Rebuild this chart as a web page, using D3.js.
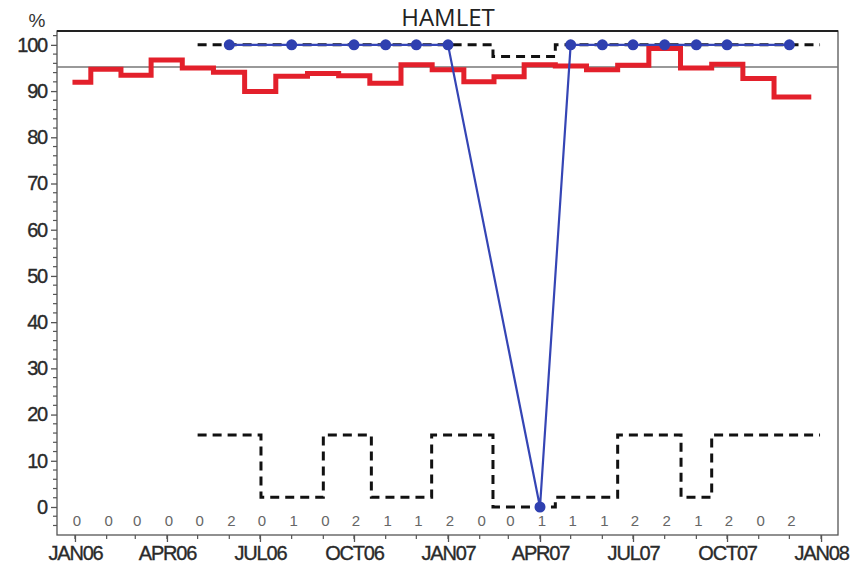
<!DOCTYPE html>
<html>
<head>
<meta charset="utf-8">
<script src="https://cdn.jsdelivr.net/npm/d3@7"></script>
<style>
  html, body { margin: 0; padding: 0; background: #fff; }
  svg { display: block; }
</style>
</head>
<body>
<svg id="chart" width="851" height="571"></svg>
<script>
// ---- data ----
const months = ["2006-01","2006-02","2006-03","2006-04","2006-05","2006-06","2006-07","2006-08","2006-09","2006-10","2006-11","2006-12",
                "2007-01","2007-02","2007-03","2007-04","2007-05","2007-06","2007-07","2007-08","2007-09","2007-10","2007-11","2007-12"];
const redValues = [91.9, 94.7, 93.4, 96.7, 95.0, 94.1, 89.9, 93.2, 93.8, 93.3, 91.7, 95.7,
                   94.6, 92.0, 93.1, 95.7, 95.4, 94.6, 95.6, 99.2, 95.0, 95.8, 92.7, 88.7];
const blueValues = [null, null, null, null, null, 100, null, 100, null, 100, 100, 100,
                    100, null, null, 0, 100, 100, 100, 100, 100, 100, null, 100];
const counts = [0,0,0,0,0,2,0,1,0,2,1,1,2,0,0,1,1,1,2,2,1,2,0,2];
const limitDates = ["2006-05-01","2006-07-02","2006-09-01","2006-10-18","2006-12-16","2007-02-14",
                    "2007-04-16","2007-06-16","2007-08-17","2007-09-16","2007-12-31"];
const upperLimit = [100, 100, 100, 100, 100, 97.5, 100, 100, 100, 100, 100];
const lowerLimit = [15.6, 2.1, 15.6, 2.1, 15.6, 0, 2.1, 15.6, 2.1, 15.6, 15.6];
const targetLine = 95.2;
const yTicks = [0,10,20,30,40,50,60,70,80,90,100];
const xTickLabels = ["JAN06","APR06","JUL06","OCT06","JAN07","APR07","JUL07","OCT07","JAN08"];
const titleText = "HAMLET";
const yUnit = "%";

// ---- setup ----
const svg = d3.select("#chart");
const parseM = d3.timeParse("%Y-%m");
const parseD = d3.timeParse("%Y-%m-%d");
const L = 57, R = 838, T = 31, B = 535;

const x = d3.scaleTime()
  .domain([new Date(2005, 11, 14, 10), new Date(2008, 0, 17, 14)])
  .range([L, R]);
const y = d3.scaleLinear().domain([-6.06, 103.0]).range([B, T]);

const red = months.map((m, i) => ({ date: parseM(m), value: redValues[i] }));
const blue = months.map((m, i) => ({ date: parseM(m), value: blueValues[i] })).filter(d => d.value !== null);
const limU = limitDates.map((d, i) => ({ date: parseD(d), value: upperLimit[i] }));
const limL = limitDates.map((d, i) => ({ date: parseD(d), value: lowerLimit[i] }));

const tickFont = "Liberation Sans, Arial, sans-serif";

// frame
svg.append("rect").attr("x", L).attr("y", T).attr("width", R - L).attr("height", B - T)
  .attr("fill", "none").attr("stroke", "#555").attr("stroke-width", 1.3);
svg.append("line").attr("x1", L).attr("x2", R).attr("y1", T).attr("y2", T)
  .attr("stroke", "#222").attr("stroke-width", 2);

// y axis
const yMinor = d3.range(-4, 103, 2).filter(v => v % 10 !== 0);
svg.append("g").selectAll("line").data(yMinor).join("line")
  .attr("x1", L - 4).attr("x2", L).attr("y1", d => y(d)).attr("y2", d => y(d))
  .attr("stroke", "#555").attr("stroke-width", 1.2);
const yAx = d3.axisLeft(y).tickValues(yTicks).tickSize(6).tickPadding(4);
const gy = svg.append("g").attr("transform", `translate(${L},0)`).call(yAx);
gy.select(".domain").remove();
gy.selectAll(".tick line").attr("stroke", "#555").attr("stroke-width", 1.3);
gy.selectAll(".tick text").attr("font-family", tickFont)
  .attr("font-size", 20).attr("fill", "#2a2a2a").attr("stroke", "#2a2a2a").attr("stroke-width", 0.35)
  .attr("letter-spacing", -1.2);

svg.append("text").attr("x", 37).attr("y", 27).attr("text-anchor", "middle")
  .attr("font-family", tickFont).attr("font-size", 19).attr("fill", "#333")
  .text(yUnit);

// x axis
const monthTicks = d3.timeMonth.range(new Date(2006, 0, 1), new Date(2008, 0, 2));
svg.append("g").selectAll("line").data(monthTicks).join("line")
  .attr("x1", d => x(d)).attr("x2", d => x(d)).attr("y1", B).attr("y2", B + 4)
  .attr("stroke", "#555").attr("stroke-width", 1.2);
const quarterTicks = d3.timeMonth.every(3).range(new Date(2006, 0, 1), new Date(2008, 0, 2));
const xAx = d3.axisBottom(x).tickValues(quarterTicks).tickSize(7).tickPadding(4)
  .tickFormat((d, i) => xTickLabels[i]);
const gx = svg.append("g").attr("transform", `translate(0,${B})`).call(xAx);
gx.select(".domain").remove();
gx.selectAll(".tick line").attr("stroke", "#555").attr("stroke-width", 1.3);
gx.selectAll(".tick text").attr("font-family", tickFont)
  .attr("font-size", 20).attr("fill", "#2a2a2a").attr("stroke", "#2a2a2a").attr("stroke-width", 0.35)
  .attr("letter-spacing", -1.2);

// target line
svg.append("line").attr("x1", L).attr("x2", R).attr("y1", y(targetLine)).attr("y2", y(targetLine))
  .attr("stroke", "#777").attr("stroke-width", 1.4);

// limits
const stepLine = d3.line().x(d => x(d.date)).y(d => y(d.value)).curve(d3.curveStepAfter);
[limU, limL].forEach(lim => {
  svg.append("path").attr("d", stepLine(lim)).attr("fill", "none")
    .attr("stroke", "#111").attr("stroke-width", 3).attr("stroke-dasharray", "9,6");
});

// red step line (extend final step a little past last month)
const redExt = red.concat([{ date: d3.timeDay.offset(red[red.length - 1].date, 19), value: red[red.length - 1].value }]);
const redLine = d3.line().x(d => x(d.date)).y(d => y(d.value)).curve(d3.curveStep);
svg.append("path").attr("d", redLine(redExt)).attr("fill", "none")
  .attr("stroke", "#e3202b").attr("stroke-width", 5).attr("stroke-linecap", "square");

// blue line + dots
const blueLine = d3.line().x(d => x(d.date)).y(d => y(d.value));
svg.append("path").attr("d", blueLine(blue)).attr("fill", "none")
  .attr("stroke", "#3545b5").attr("stroke-width", 2.2);
svg.append("g").selectAll("circle").data(blue).join("circle")
  .attr("cx", d => x(d.date)).attr("cy", d => y(d.value)).attr("r", 5.5)
  .attr("fill", "#2f40b0");

// counts
svg.append("g").selectAll("text").data(months).join("text")
  .attr("x", (m) => x(parseM(m)) + 2).attr("y", y(-3)).attr("dy", "0.36em")
  .attr("text-anchor", "middle").attr("font-family", tickFont)
  .attr("font-size", 15).attr("fill", "#666")
  .text((m, i) => counts[i]);

// title
svg.append("text").attr("x", 448).attr("y", 26).attr("text-anchor", "middle")
  .attr("font-family", "Open Sans, Noto Sans, sans-serif").attr("font-size", 24).attr("fill", "#222")
  .text(titleText);
</script>
</body>
</html>
